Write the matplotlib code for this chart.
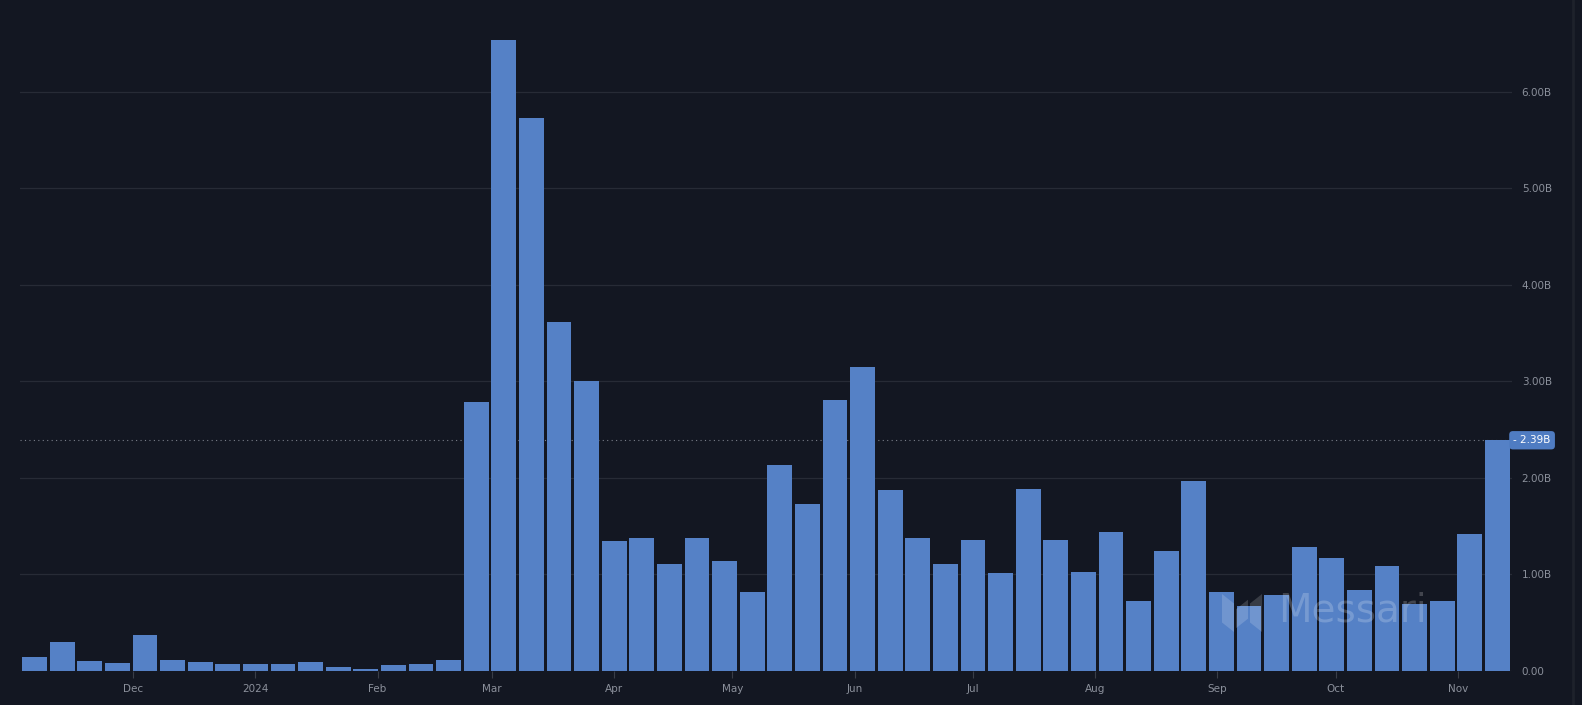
import numpy as np
import pandas as pd
import matplotlib
matplotlib.use("Agg")
import matplotlib.pyplot as plt
from matplotlib.patches import Polygon

# weekly values in billions, week starting Mon 2023-11-06
weeks = pd.date_range("2023-11-06", periods=54, freq="7D")
values = [0.15, 0.30, 0.10, 0.08, 0.37, 0.11, 0.09, 0.07, 0.07, 0.07,
          0.09, 0.04, 0.02, 0.06, 0.07, 0.11, 2.79, 6.54, 5.73, 3.62,
          3.00, 1.35, 1.38, 1.11, 1.38, 1.14, 0.82, 2.13, 1.73, 2.81,
          3.15, 1.87, 1.38, 1.11, 1.36, 1.01, 1.88, 1.36, 1.03, 1.44,
          0.73, 1.24, 1.97, 0.82, 0.67, 0.79, 1.28, 1.17, 0.84, 1.09,
          0.69, 0.73, 1.42, 2.39]
yticks = [0, 1, 2, 3, 4, 5, 6]
ytick_labels = ["0.00", "1.00B", "2.00B", "3.00B", "4.00B", "5.00B", "6.00B"]
xtick_dates = ["2023-12-01", "2024-01-01", "2024-02-01", "2024-03-01", "2024-04-01",
               "2024-05-01", "2024-06-01", "2024-07-01", "2024-08-01", "2024-09-01",
               "2024-10-01", "2024-11-01"]
xtick_labels = ["Dec", "2024", "Feb", "Mar", "Apr", "May", "Jun", "Jul",
                "Aug", "Sep", "Oct", "Nov"]

bg = "#131722"
bar_color = "#5581c6"
text_color = "#8b909b"

W, H = 1582, 705
fig = plt.figure(figsize=(W / 100, H / 100), dpi=100, facecolor=bg)
ax = fig.add_axes([20 / W, 34 / H, (1512 - 20) / W, (H - 34) / H], facecolor=bg)

ax.bar(weeks, values, width=6.3, color=bar_color, zorder=3)

pad = pd.Timedelta(days=3.7)
ax.set_xlim(weeks[0] - pad, weeks[-1] + pad)
ax.set_ylim(0, 6.95)

ax.set_yticks(yticks)
ax.set_yticklabels(ytick_labels)
ax.yaxis.tick_right()
ax.grid(axis="y", color="#272b36", linewidth=0.9, zorder=0)
ax.tick_params(axis="y", length=0, pad=7, labelsize=7.5, labelcolor=text_color)

ax.set_xticks(pd.to_datetime(xtick_dates))
ax.set_xticklabels(xtick_labels)
ax.tick_params(axis="x", length=5, width=0.8, color="#3a3e48", pad=4,
               labelsize=7.5, labelcolor=text_color)

for s in ax.spines.values():
    s.set_visible(False)

# last value marker
last = values[-1]
ax.axhline(last, color="#7a7f8a", linestyle=(0, (1, 3)), linewidth=0.8, zorder=2)
ax.annotate("- {:.2f}B".format(last), xy=(1.0, last), xycoords=("axes fraction", "data"),
            xytext=(1, 0), textcoords="offset points", ha="left", va="center",
            fontsize=7.5, color="white",
            bbox=dict(boxstyle="round,pad=0.4,rounding_size=0.35", fc="#4f7cc2", ec="none"))

# watermark
fig.text(1278 / W, 1 - 611 / H, "Messari", fontsize=28, color="white", alpha=0.2,
         va="center", ha="left", zorder=10)
lx, ly = 1222 / W, 1 - 632 / H
lw, lh = 40 / W, 38 / H
logo = [
    [(lx, ly + 0.25 * lh), (lx + 0.3 * lw, ly), (lx + 0.3 * lw, ly + 0.75 * lh), (lx, ly + lh)],
    [(lx + 0.35 * lw, ly + 0.1 * lh), (lx + 0.65 * lw, ly + 0.35 * lh), (lx + 0.65 * lw, ly + 0.85 * lh), (lx + 0.35 * lw, ly + 0.6 * lh)],
    [(lx + 0.7 * lw, ly + 0.25 * lh), (lx + lw, ly), (lx + lw, ly + lh), (lx + 0.7 * lw, ly + 0.75 * lh)],
]
for pts in logo:
    fig.patches.append(Polygon(pts, closed=True, transform=fig.transFigure,
                               fc="white", alpha=0.16, ec="none", zorder=10))

# right border line
fig.add_artist(plt.Line2D([1573 / W, 1573 / W], [0, 1], color="#1e222b", linewidth=2))

fig.savefig("out.png", dpi=100, facecolor=bg)
